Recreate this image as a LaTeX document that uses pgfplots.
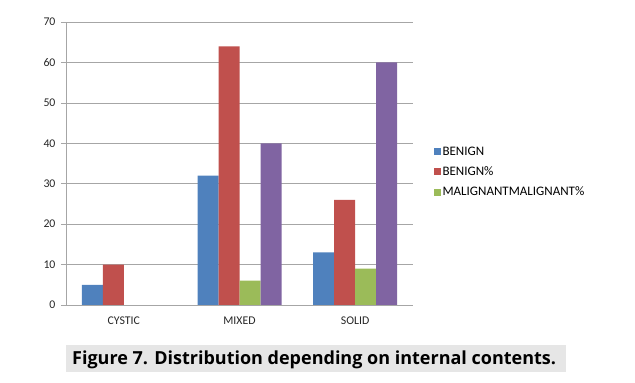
\documentclass[border=0pt]{standalone}
\usepackage{pgfplots}
\pgfplotsset{compat=1.18}
\usepackage{fontspec}
\setmainfont{Carlito}
\newfontfamily\capfont{Open Sans}
\definecolor{cBlue}{HTML}{4F81BD}
\definecolor{cRed}{HTML}{C0504D}
\definecolor{cGreen}{HTML}{9BBB59}
\definecolor{cPurple}{HTML}{8064A2}
\definecolor{gridc}{HTML}{A6A6A6}
\definecolor{capbg}{HTML}{E6E6E6}
\begin{document}
\begin{tikzpicture}[x=1pt,y=1pt]
\path[use as bounding box] (0,0) rectangle (635,383);
\begin{axis}[
  at={(66pt,78pt)}, anchor=south west,
  scale only axis, width=347pt, height=283pt,
  ybar=0pt, bar width=21pt,
  xmin=-0.5, xmax=2.5, ymin=0, ymax=70,
  xtick={0,1,2}, xticklabels={CYSTIC,MIXED,SOLID},
  major x tick style={draw=none},
  extra x ticks={-0.5,0.5,1.5,2.5}, extra x tick labels={},
  extra x tick style={major tick length=4pt, tick style={draw=gridc, line width=0.7pt}, grid=none},
  ytick={0,10,...,70},
  ymajorgrids, grid style={draw=gridc, line width=0.7pt},
  axis x line*=bottom, axis y line*=left,
  axis line style={draw=gridc, line width=0.7pt, -},
  tick align=outside, major tick length=5pt,
  ytick style={draw=gridc, line width=0.7pt},
  tick label style={font=\fontsize{11.8}{13}\selectfont, text=black!85},
  yticklabel style={xshift=-2pt},
  xticklabel style={yshift=-3pt},
  /pgf/number format/assume math mode=true,
  legend entries={BENIGN,BENIGN\%,MALIGNANTMALIGNANT\%},
  legend style={draw=none, fill=none, at={(axis description cs:1.05,0.47)}, anchor=west,
    font=\fontsize{13}{14}\selectfont, row sep=6pt,
    /tikz/every even column/.append style={column sep=2pt}},
  legend cell align=left,
  legend image code/.code={\fill[#1] (0pt,-3.5pt) rectangle (7pt,3.5pt);},
]
\addplot[fill=cBlue, draw=none] coordinates {(0,5) (1,32) (2,13)};
\addplot[fill=cRed, draw=none] coordinates {(0,10) (1,64) (2,26)};
\addplot[fill=cGreen, draw=none] coordinates {(1,6) (2,9)};
\addplot[fill=cPurple, draw=none] coordinates {(1,40) (2,60)};
\end{axis}
\fill[capbg] (66,11) rectangle (566,38);
\node[anchor=base west, inner sep=0pt, font=\capfont\bfseries\fontsize{18}{20}\selectfont] at (72,18) {Figure 7. Distribution depending on internal contents.};
\end{tikzpicture}
\end{document}
